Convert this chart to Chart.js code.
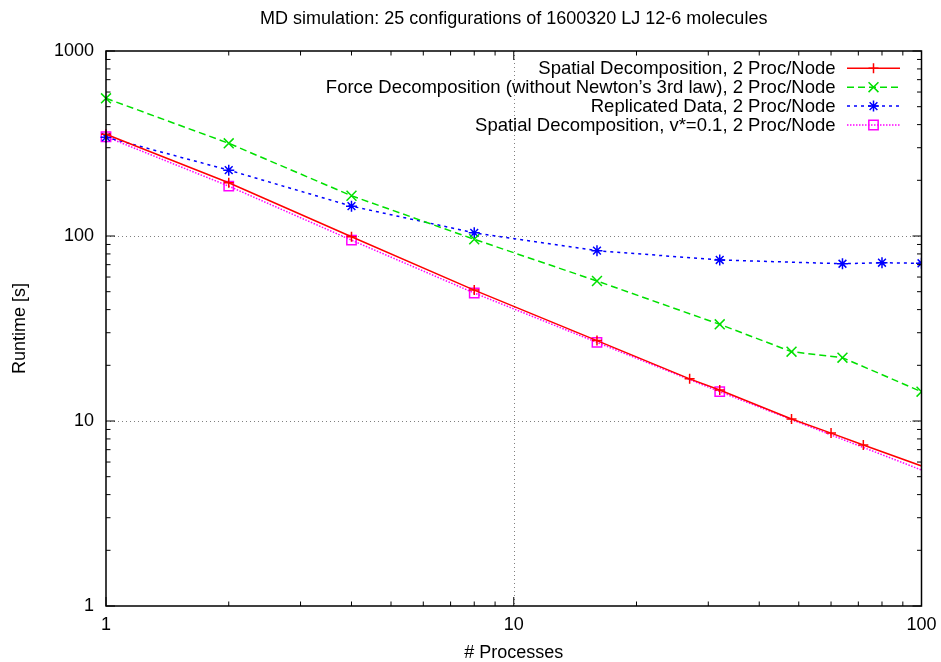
<!DOCTYPE html>
<html>
<head>
<meta charset="utf-8">
<script src="https://cdn.jsdelivr.net/npm/chart.js@4.4.1/dist/chart.umd.min.js"></script>
<style>
  html, body { margin: 0; padding: 0; background: #fff; }
  #wrap { width: 941px; height: 662px; }
</style>
</head>
<body>
<div id="wrap"><canvas id="runtimeChart" width="941" height="662"></canvas></div>
<script>
// ── Data ──────────────────────────────────────────────────
const spatialX  = [1, 2, 4, 8, 16, 27, 32, 48, 60, 72, 128];
const spatialY  = [355, 194, 99, 51, 27.2, 16.9, 14.7, 10.25, 8.6, 7.42, 4.7];
const forceX    = [1, 2, 4, 8, 16, 32, 48, 64, 100];
const forceY    = [555, 317, 165, 96, 57.1, 33.3, 23.7, 22.0, 14.4];
const replX     = [1, 2, 4, 8, 16, 32, 64, 80, 100];
const replY     = [342, 227, 145, 104, 83.3, 74.2, 70.8, 71.7, 71.2];
const spatialVX = [1, 2, 4, 8, 16, 32, 128];
const spatialVY = [344, 186, 95, 49.2, 26.6, 14.4, 4.4];

const seriesNames = [
  'Spatial Decomposition, 2 Proc/Node',
  'Force Decomposition (without Newton\u2019s 3rd law), 2 Proc/Node',
  'Replicated Data, 2 Proc/Node',
  'Spatial Decomposition, v*=0.1, 2 Proc/Node'
];
const xTickLabels = [1, 10, 100];
const yTickLabels = [1, 10, 100, 1000];

const COLORS = {
  spatial:  '#ff0000',
  force:    '#00e000',
  repl:     '#0000ff',
  spatialV: '#ff00ff',
  grid:     '#808080',
  frame:    '#000000'
};

const FONT = "'Liberation Sans', Arial, Helvetica, sans-serif";
Chart.defaults.font.family = FONT;
Chart.defaults.font.size   = 18;
Chart.defaults.color       = '#000';

const toPoints = (xs, ys) => xs.map((x, i) => ({ x, y: ys[i] }));
const isDecade = v => Math.abs(Math.log10(v) - Math.round(Math.log10(v))) < 1e-9;
const CLIP = { left: 8, top: 8, right: 0, bottom: 8 };

// log tick values (1..9 per decade) between min and max
function logTicks(min, max) {
  const out = [];
  for (let e = Math.floor(Math.log10(min)); e <= Math.ceil(Math.log10(max)); e++) {
    for (let m = 1; m <= 9; m++) {
      const v = m * Math.pow(10, e);
      if (v >= min * 0.999 && v <= max * 1.001) out.push(v);
    }
  }
  return out;
}

function drawMarker(ctx, style, r, x, y) {
  ctx.beginPath();
  if (style === 'cross' || style === 'star') {
    ctx.moveTo(x - r, y); ctx.lineTo(x + r, y);
    ctx.moveTo(x, y - r); ctx.lineTo(x, y + r);
  }
  if (style === 'crossRot' || style === 'star') {
    const d = r * Math.SQRT1_2;
    ctx.moveTo(x - d, y - d); ctx.lineTo(x + d, y + d);
    ctx.moveTo(x - d, y + d); ctx.lineTo(x + d, y - d);
  }
  if (style === 'rect') {
    const s = r * Math.SQRT1_2;
    ctx.rect(x - s, y - s, 2 * s, 2 * s);
  }
  ctx.stroke();
}

// ── gnuplot-style frame: grid, border, inward ticks, key ──
const gnuplotFrame = {
  id: 'gnuplotFrame',
  beforeDatasetsDraw(chart) {
    const { ctx, chartArea: a, scales: { x, y } } = chart;
    ctx.save();
    ctx.strokeStyle = COLORS.grid;
    ctx.lineWidth = 1;
    ctx.setLineDash([1, 3]);
    xTickLabels.forEach(v => {
      if (v <= x.min || v >= x.max) return;
      const px = Math.round(x.getPixelForValue(v)) + 0.5;
      ctx.beginPath(); ctx.moveTo(px, a.top); ctx.lineTo(px, a.bottom); ctx.stroke();
    });
    yTickLabels.forEach(v => {
      if (v <= y.min || v >= y.max) return;
      const py = Math.round(y.getPixelForValue(v)) + 0.5;
      ctx.beginPath(); ctx.moveTo(a.left, py); ctx.lineTo(a.right, py); ctx.stroke();
    });
    ctx.restore();
  },
  afterDatasetsDraw(chart) {
    const { ctx, chartArea: a, scales: { x, y } } = chart;
    ctx.save();
    ctx.strokeStyle = COLORS.frame;
    ctx.lineWidth = 1.5;
    ctx.setLineDash([]);
    ctx.strokeRect(a.left, a.top, a.right - a.left, a.bottom - a.top);

    ctx.lineWidth = 1;
    logTicks(x.min, x.max).forEach(v => {
      const px = x.getPixelForValue(v);
      const len = isDecade(v) ? 9 : 4.5;
      ctx.beginPath();
      ctx.moveTo(px, a.bottom); ctx.lineTo(px, a.bottom - len);
      ctx.moveTo(px, a.top);    ctx.lineTo(px, a.top + len);
      ctx.stroke();
    });
    logTicks(y.min, y.max).forEach(v => {
      const py = y.getPixelForValue(v);
      const len = isDecade(v) ? 9 : 4.5;
      ctx.beginPath();
      ctx.moveTo(a.left, py);  ctx.lineTo(a.left + len, py);
      ctx.moveTo(a.right, py); ctx.lineTo(a.right - len, py);
      ctx.stroke();
    });

    // key, top right inside the plot
    const textRight = a.right - 86;
    const lineFrom  = a.right - 74.5;
    const lineTo    = a.right - 21.5;
    ctx.font = '18.5px ' + FONT;
    ctx.fillStyle = '#000';
    ctx.textAlign = 'right';
    ctx.textBaseline = 'middle';
    chart.data.datasets.forEach((ds, i) => {
      const ry = a.top + 17.3 + i * 18.9;
      ctx.fillText(ds.label, textRight, ry + 1);
      ctx.strokeStyle = ds.borderColor;
      ctx.lineWidth = ds.borderWidth;
      ctx.setLineDash(ds.borderDash || []);
      ctx.beginPath(); ctx.moveTo(lineFrom, ry); ctx.lineTo(lineTo, ry); ctx.stroke();
      ctx.setLineDash([]);
      ctx.lineWidth = ds.pointBorderWidth;
      drawMarker(ctx, ds.pointStyle, ds.pointRadius, (lineFrom + lineTo) / 2, ry);
    });
    ctx.restore();
  }
};

const ctx = document.getElementById('runtimeChart');
new Chart(ctx, {
  type: 'line',
  data: {
    datasets: [
      {
        label: seriesNames[0],
        data: toPoints(spatialX, spatialY),
        borderColor: COLORS.spatial, borderWidth: 1.5, borderDash: [],
        pointStyle: 'cross', pointRadius: 5, pointBorderWidth: 1.5,
        pointBorderColor: COLORS.spatial, pointBackgroundColor: 'transparent',
        clip: CLIP
      },
      {
        label: seriesNames[1],
        data: toPoints(forceX, forceY),
        borderColor: COLORS.force, borderWidth: 1.5, borderDash: [7, 4],
        pointStyle: 'crossRot', pointRadius: 7, pointBorderWidth: 1.5,
        pointBorderColor: COLORS.force, pointBackgroundColor: 'transparent',
        clip: CLIP
      },
      {
        label: seriesNames[2],
        data: toPoints(replX, replY),
        borderColor: COLORS.repl, borderWidth: 1.5, borderDash: [3, 4],
        pointStyle: 'star', pointRadius: 5.5, pointBorderWidth: 1.5,
        pointBorderColor: COLORS.repl, pointBackgroundColor: 'transparent',
        clip: CLIP
      },
      {
        label: seriesNames[3],
        data: toPoints(spatialVX, spatialVY),
        borderColor: COLORS.spatialV, borderWidth: 1.5, borderDash: [1.5, 1.5],
        pointStyle: 'rect', pointRadius: 6.6, pointBorderWidth: 1.5,
        pointBorderColor: COLORS.spatialV, pointBackgroundColor: 'transparent',
        clip: CLIP
      }
    ]
  },
  options: {
    responsive: false,
    animation: false,
    devicePixelRatio: 1,
    layout: { padding: { top: 0, right: 19.5, bottom: 0, left: 0 } },
    elements: { line: { tension: 0, fill: false } },
    plugins: {
      legend: { display: false },
      tooltip: { enabled: false },
      title: {
        display: true,
        fullSize: false,
        text: 'MD simulation: 25 configurations of 1600320 LJ 12-6 molecules',
        font: { size: 18, weight: 'normal' },
        color: '#000',
        padding: { top: 8, bottom: 21.4 }
      }
    },
    scales: {
      x: {
        type: 'logarithmic', min: 1, max: 100,
        grid: { display: false, drawTicks: false },
        border: { display: false },
        ticks: {
          autoSkip: false, maxRotation: 0, padding: 8,
          callback: v => xTickLabels.some(t => Math.abs(t - v) < 1e-9) ? String(v) : ''
        },
        title: {
          display: true, text: '# Processes',
          font: { lineHeight: 1 }, padding: { top: 0, bottom: 0 }
        },
        afterFit: s => { s.height = 56; s.paddingLeft = 0; s.paddingRight = 0; }
      },
      y: {
        type: 'logarithmic', min: 1, max: 1000,
        grid: { display: false, drawTicks: false },
        border: { display: false },
        ticks: {
          autoSkip: false, padding: 12,
          callback: v => yTickLabels.some(t => Math.abs(t - v) < 1e-9) ? String(v) : ''
        },
        title: { display: true, text: 'Runtime [s]', padding: { top: 9, bottom: 0 } },
        afterFit: s => { s.width = 106; }
      }
    }
  },
  plugins: [gnuplotFrame]
});
</script>
</body>
</html>
